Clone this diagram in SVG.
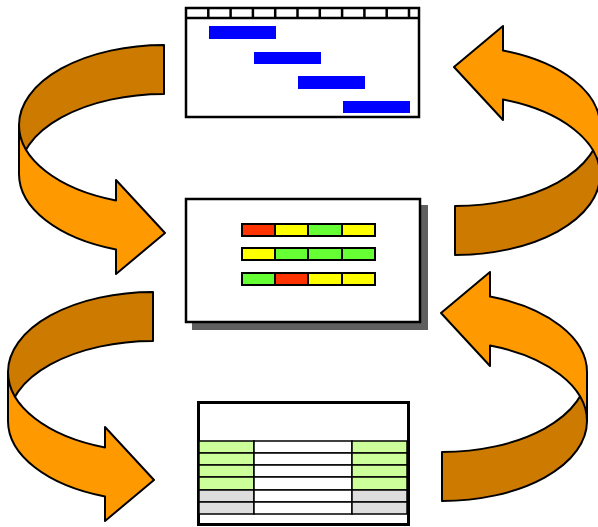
<svg xmlns="http://www.w3.org/2000/svg" xmlns:xlink="http://www.w3.org/1999/xlink" width="598" height="527" viewBox="0 0 598 527">
<style>
.box{fill:#fff;stroke:#000;stroke-width:2.5}
.ln{stroke:#000;stroke-width:2.5;fill:none}
.bar{fill:#0000ff}
.c{stroke:#000;stroke-width:2}
.r{fill:#ff3300}.y{fill:#ffff00}.g{fill:#66ff33}
.lg{fill:#ccff99}.gr{fill:#dddddd}.w{fill:#fff}
.dark{fill:#cc7a00;stroke:#000;stroke-width:2;stroke-linejoin:round}
.light{fill:#ff9900;stroke:#000;stroke-width:2;stroke-linejoin:round}
</style>
<defs>
<g id="arrow">
<path class="dark" d="M0,-80 A145 80 0 0 0 -145,0 L-145,49 A145 80 0 0 1 0,-31 Z"/>
<path class="light" d="M-145,0 A145 80 0 0 0 -48,75.5 L-48,55 L1,108 L-48,149 L-48,124.5 A145 80 0 0 1 -145,49 Z"/>
</g>
</defs>
<g id="connectors">
<use xlink:href="#arrow" transform="translate(164,125)"/>
<use xlink:href="#arrow" transform="translate(455,175) rotate(180)"/>
<use xlink:href="#arrow" transform="translate(153,372)"/>
<use xlink:href="#arrow" transform="translate(442,421) rotate(180)"/>
</g>
<g id="gantt">
<rect class="box" x="186" y="8" width="233" height="109"/>
<line class="ln" x1="186" y1="18" x2="419" y2="18"/>
<path class="ln" d="M208.3,8V18M230.6,8V18M252.9,8V18M275.2,8V18M297.5,8V18M319.8,8V18M342.1,8V18M364.4,8V18M386.7,8V18M409,8V18"/>
<rect class="bar" x="209" y="26" width="67" height="13"/>
<rect class="bar" x="254" y="52" width="67" height="12"/>
<rect class="bar" x="298" y="76" width="67" height="13"/>
<rect class="bar" x="343" y="101" width="67" height="12"/>
</g>
<g id="status">
<rect x="192" y="205" width="236" height="125" fill="#5f5f5f"/>
<rect class="box" x="186" y="199" width="234" height="123"/>
<rect class="c r" x="242" y="224" width="33" height="12"/>
<rect class="c y" x="275" y="224" width="33" height="12"/>
<rect class="c g" x="308" y="224" width="34" height="12"/>
<rect class="c y" x="342" y="224" width="33" height="12"/>
<rect class="c y" x="242" y="248" width="33" height="12"/>
<rect class="c g" x="275" y="248" width="33" height="12"/>
<rect class="c g" x="308" y="248" width="34" height="12"/>
<rect class="c g" x="342" y="248" width="33" height="12"/>
<rect class="c g" x="242" y="273" width="33" height="12"/>
<rect class="c r" x="275" y="273" width="33" height="12"/>
<rect class="c y" x="308" y="273" width="34" height="12"/>
<rect class="c y" x="342" y="273" width="33" height="12"/>
</g>
<g id="table">
<rect x="198.5" y="402.5" width="210" height="122" fill="#fff" stroke="#000" stroke-width="3"/>
<g stroke="#000" stroke-width="1.5">
<rect class="lg" x="199" y="441" width="55" height="12"/>
<rect class="w" x="254" y="441" width="98" height="12"/>
<rect class="lg" x="352" y="441" width="55" height="12"/>
<rect class="lg" x="199" y="453" width="55" height="12"/>
<rect class="w" x="254" y="453" width="98" height="12"/>
<rect class="lg" x="352" y="453" width="55" height="12"/>
<rect class="lg" x="199" y="465" width="55" height="12"/>
<rect class="w" x="254" y="465" width="98" height="12"/>
<rect class="lg" x="352" y="465" width="55" height="12"/>
<rect class="lg" x="199" y="477" width="55" height="13"/>
<rect class="w" x="254" y="477" width="98" height="13"/>
<rect class="lg" x="352" y="477" width="55" height="13"/>
<rect class="gr" x="199" y="490" width="55" height="12"/>
<rect class="w" x="254" y="490" width="98" height="12"/>
<rect class="gr" x="352" y="490" width="55" height="12"/>
<rect class="gr" x="199" y="502" width="55" height="12"/>
<rect class="w" x="254" y="502" width="98" height="12"/>
<rect class="gr" x="352" y="502" width="55" height="12"/>
</g>
</g>
</svg>
